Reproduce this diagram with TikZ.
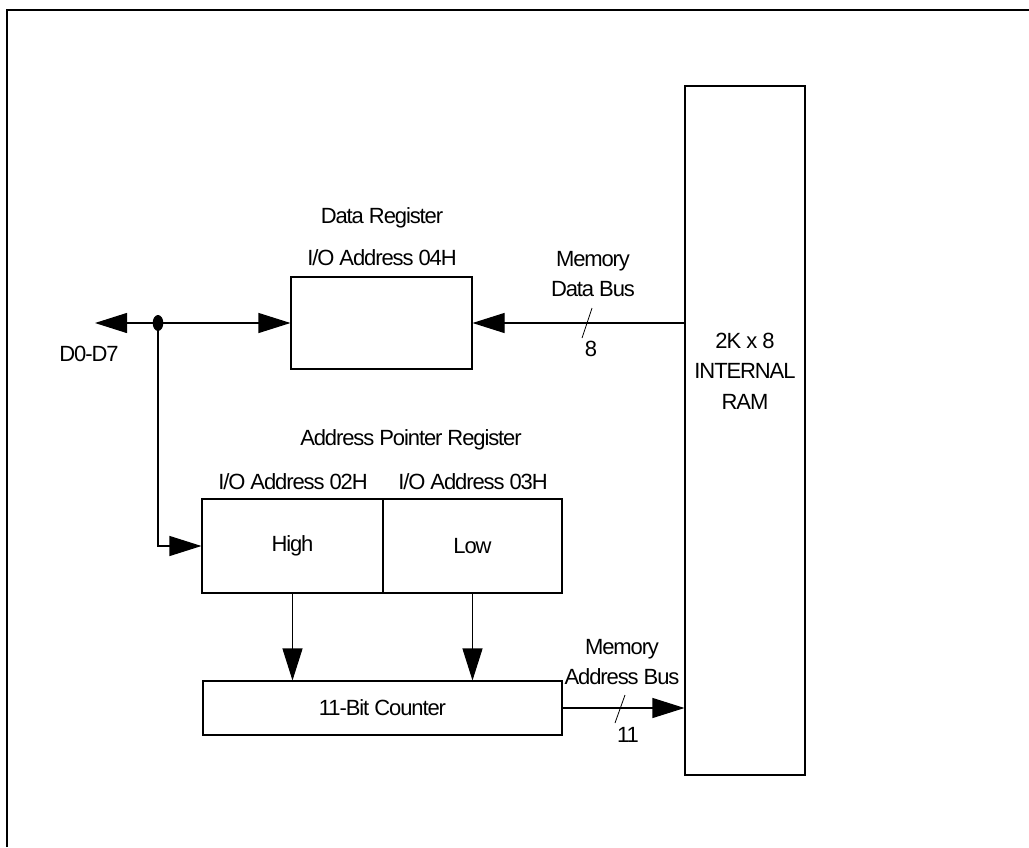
\documentclass[tikz,border=0pt]{standalone}
\usepackage{fontspec}
\setmainfont[LetterSpace=-5]{Liberation Sans}
\usetikzlibrary{arrows.meta}

\begin{document}
\begin{tikzpicture}[x = 0.75pt, y = -0.75pt,
  font = \fontsize{16.5}{23}\selectfont,
  box/.style = {draw, line width = 0.8pt, inner sep = 0pt},
  bus/.style = {line width = 0.8pt, -{Triangle[length = 24pt, width = 15pt]}},
  lbl/.style = {inner sep = 0pt, align = center}]
\useasboundingbox (0, 0) rectangle (1029, 847);
\draw[line width = 1.5pt] (7, 847) -- (7, 10) -- (1029, 10);
% blocks
\node[box, minimum width = 135.75pt, minimum height = 69pt] (datareg) at (381.5, 323) {};
\node[box, minimum width = 135.75pt, minimum height = 70.5pt] (high) at (292.5, 546) {High};
\node[box, minimum width = 134.25pt, minimum height = 70.5pt] (low) at (472.5, 546) {Low};
\node[box, minimum width = 269.25pt, minimum height = 40.5pt] (counter) at (382.5, 708) {11-Bit Counter};
\node[box, minimum width = 90pt, minimum height = 516.75pt] (ram) at (745, 430.5) {};
% labels
\node[lbl] (datatitle) at (382, 218) {Data Register};
\node[lbl] (dataaddr) at (382, 258) {I/O Address 04H};
\node[lbl] (ptrtitle) at (411, 440) {Address Pointer Register};
\node[lbl] (highaddr) at (293, 482) {I/O Address 02H};
\node[lbl] (lowaddr) at (473, 482) {I/O Address 03H};
\node[lbl] (dbuslbl) at (593, 274) {Memory\\Data Bus};
\node[lbl] (dbuswidth) at (591, 349) {8};
\node[lbl] (abuslbl) at (622, 662) {Memory\\Address Bus};
\node[lbl] (abuswidth) at (628, 735) {11};
\node[lbl] (ramlbl) at (745, 371) {2K x 8\\INTERNAL\\RAM};
\node[lbl] (extlbl) at (89, 354) {D0-D7};
% buses
\coordinate (jn) at (158, 323);
\coordinate (ext) at (95, 323);
\draw[bus] (jn) -- (ext);
\draw[bus] (jn) -- (datareg.west);
\draw[bus] (jn) |- (high.west);
\fill (jn) ellipse (4pt and 6pt);
\draw[bus] (ram.west |- datareg.east) -- (datareg.east);
\draw[bus] (high.south) -- (high.south |- counter.north);
\draw[bus] (low.south) -- (low.south |- counter.north);
\draw[bus] (counter.east) -- (ram.west |- counter.east);
% bus widths
\draw[line width = 0.6pt] (592, 308) -- (582, 338);
\draw[line width = 0.6pt] (625, 695) -- (615, 723);
\end{tikzpicture}
\end{document}
